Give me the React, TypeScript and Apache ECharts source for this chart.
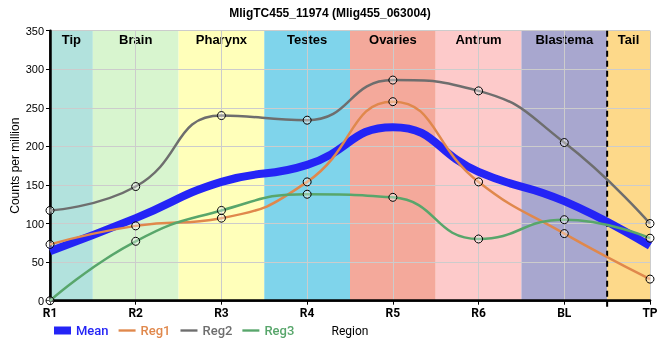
import React, { useEffect, useRef } from "react";
import * as echarts from "echarts";

const titleText = "MligTC455_11974 (Mlig455_063004)";
const regions = ["R1", "R2", "R3", "R4", "R5", "R6", "BL", "TP"];
const meanValues = [64, 107, 154, 176, 225, 167, 129, 71];
const reg1Values = [73, 97, 107, 154, 258, 154, 87, 28];
const reg2Values = [117, 148, 240, 234, 286, 272, 205, 100];
const reg3Values = [0, 77, 117, 138, 134, 80, 105, 81];

const bandNames = ["Tip", "Brain", "Pharynx", "Testes", "Ovaries", "Antrum", "Blastema", "Tail"];
const bandStarts = [0, 0.5, 1.5, 2.5, 3.5, 4.5, 5.5, 6.5];
const bandEnds = [0.5, 1.5, 2.5, 3.5, 4.5, 5.5, 6.5, 7];
const bandColors = ["#b2e2dd", "#d8f5cf", "#ffffba", "#7fd4eb", "#f4a99b", "#fdcaca", "#a8a7cf", "#fdd98a"];
const tailBoundary = [6.5];

const yTicks = { min: 0, max: 350, interval: 50 };

const seriesColors = { Mean: "#2424f6", Reg1: "#e0884c", Reg2: "#6e6e6e", Reg3: "#58a66b" };

const lineIcon = "path://M0,0L18,0L18,2.5L0,2.5Z";

export default function App() {
  const ref = useRef<HTMLDivElement>(null);
  useEffect(() => {
    if (!ref.current) return;
    const chart = echarts.init(ref.current, null, { renderer: "svg" });
    const toPairs = (arr: number[]) => arr.map((v, i) => [i, v]);
    const symbolStyle = { color: "rgba(255,255,255,0.35)", borderColor: "#000", borderWidth: 1 };
    const lineSeries = (name: string, vals: number[]) => ({
      name,
      type: "line",
      data: toPairs(vals),
      smooth: 0.5,
      z: 4,
      symbol: "circle",
      symbolSize: 8,
      showSymbol: true,
      itemStyle: symbolStyle,
      lineStyle: { color: (seriesColors as any)[name], width: 2.5 },
      emphasis: { disabled: true },
    });
    const legendItem = (name: string, icon: string) => ({
      name,
      icon,
      itemStyle: { color: (seriesColors as any)[name], borderWidth: 0 },
      textStyle: { color: (seriesColors as any)[name] },
    });
    chart.setOption({
      animation: false,
      title: {
        text: titleText,
        left: "center",
        top: 2,
        textStyle: { fontSize: 12, fontWeight: "bold", fontFamily: "Liberation Sans, Arial", color: "#000" },
      },
      legend: {
        left: 54,
        top: 324,
        padding: 0,
        itemWidth: 17,
        itemHeight: 8,
        itemGap: 10,
        textStyle: { fontFamily: "Roboto", fontSize: 13, fontWeight: 500 },
        data: [
          legendItem("Mean", "rect"),
          legendItem("Reg1", lineIcon),
          legendItem("Reg2", lineIcon),
          legendItem("Reg3", lineIcon),
        ],
      },
      grid: { left: 50, right: 10, top: 30.7, bottom: 59.3, outerBoundsMode: "none", containLabel: false },
      xAxis: [
        {
          type: "value",
          min: 0,
          max: regions.length - 1,
          interval: 1,
          z: 2,
          name: "Region",
          nameLocation: "middle",
          nameGap: 24,
          nameMoveOverlap: false,
          nameTextStyle: { fontFamily: "Roboto", fontSize: 12, color: "#000" },
          axisLine: { lineStyle: { color: "#000", width: 2.5 } },
          axisTick: { show: true, length: 4, lineStyle: { color: "#000", width: 1 } },
          axisLabel: {
            formatter: (v: number) => regions[v] ?? "",
            fontFamily: "Roboto",
            fontWeight: "bold",
            fontSize: 12,
            color: "#000",
            margin: 6,
          },
          splitLine: { show: true, lineStyle: { color: "#cccccc", width: 1 } },
        },
        {
          type: "value",
          position: "top",
          min: 0,
          max: regions.length - 1,
          z: 2,
          axisLine: { show: true, lineStyle: { color: "#000", width: 1.5 } },
          axisTick: { show: false },
          axisLabel: { show: false },
          splitLine: { show: false },
        },
      ],
      yAxis: [
        {
          type: "value",
          ...yTicks,
          z: 2,
          name: "Counts per million",
          nameLocation: "middle",
          nameGap: 29,
          nameMoveOverlap: false,
          nameTextStyle: { fontFamily: "Liberation Sans, Arial", fontSize: 12, color: "#000" },
          axisLine: { show: true, lineStyle: { color: "#000", width: 2.5 } },
          axisTick: { show: true, length: 4, lineStyle: { color: "#000", width: 1 } },
          axisLabel: { fontFamily: "Liberation Sans, Arial", fontSize: 11, color: "#000", margin: 6 },
          splitLine: { show: true, lineStyle: { color: "#cccccc", width: 1 } },
        },
        {
          type: "value",
          position: "right",
          ...yTicks,
          z: 2,
          axisLine: { show: true, lineStyle: { color: "#000", width: 1.5 } },
          axisTick: { show: false },
          axisLabel: { show: false },
          splitLine: { show: false },
        },
      ],
      series: [
        {
          type: "custom",
          z: 1,
          silent: true,
          encode: { x: [0, 1], y: 2 },
          data: bandNames.map((n, i) => [bandStarts[i], bandEnds[i], 0]),
          renderItem: (params: any, api: any) => {
            const i = params.dataIndex;
            const p0 = api.coord([api.value(0), yTicks.max]);
            const p1 = api.coord([api.value(1), yTicks.min]);
            return {
              type: "group",
              children: [
                {
                  type: "rect",
                  shape: { x: p0[0], y: p0[1], width: p1[0] - p0[0], height: p1[1] - p0[1] },
                  style: { fill: bandColors[i] },
                },
                {
                  type: "text",
                  x: (p0[0] + p1[0]) / 2,
                  y: p0[1] + 2,
                  style: {
                    text: bandNames[i],
                    fill: "#000",
                    font: "bold 13px 'Liberation Sans', Arial",
                    align: "center",
                    verticalAlign: "top",
                  },
                },
              ],
            };
          },
        },
        {
          type: "custom",
          z: 3,
          silent: true,
          encode: { x: 0, y: 1 },
          data: tailBoundary.map((x) => [x, 0]),
          renderItem: (params: any, api: any) => {
            const p0 = api.coord([api.value(0), yTicks.max]);
            const p1 = api.coord([api.value(0), yTicks.min]);
            return {
              type: "line",
              shape: { x1: p0[0], y1: p0[1], x2: p1[0], y2: p1[1] + 6 },
              style: { stroke: "#000", lineWidth: 2, lineDash: [6, 4] },
            };
          },
        },
        {
          name: "Mean",
          type: "line",
          data: toPairs(meanValues),
          smooth: 0.5,
          z: 3,
          showSymbol: false,
          symbol: "none",
          lineStyle: { color: seriesColors.Mean, width: 8 },
          itemStyle: { color: seriesColors.Mean },
          emphasis: { disabled: true },
        },
        lineSeries("Reg1", reg1Values),
        lineSeries("Reg2", reg2Values),
        lineSeries("Reg3", reg3Values),
      ],
    });
    return () => chart.dispose();
  }, []);
  return <div ref={ref} style={{ position: "fixed", left: 0, top: 0, width: 660, height: 360 }} />;
}
